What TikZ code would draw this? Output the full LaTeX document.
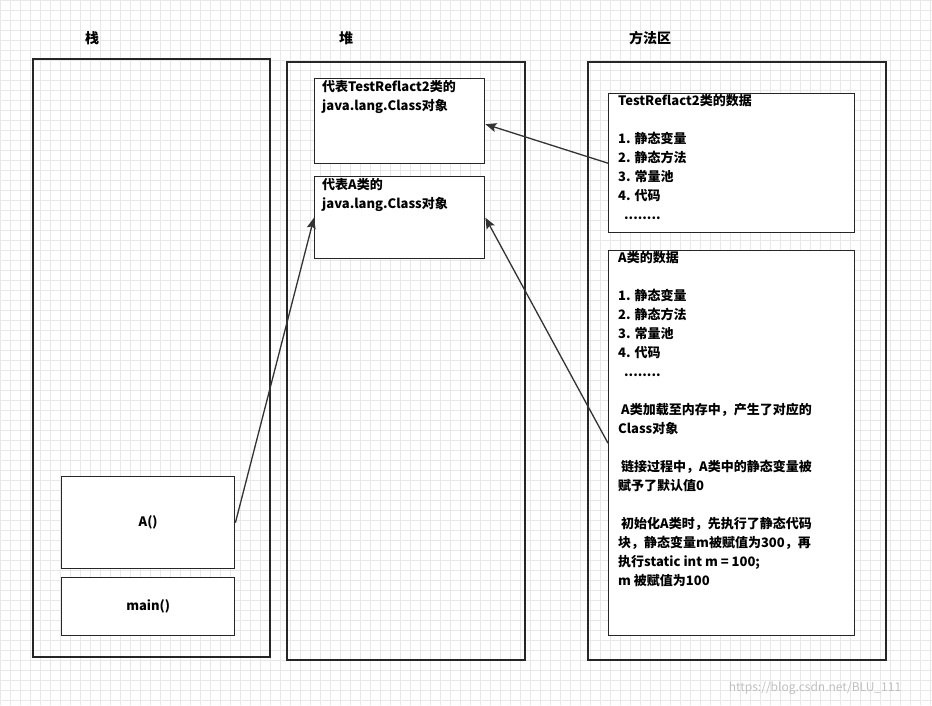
\documentclass[tikz,border=0pt]{standalone}
\usepackage{fontspec}
\usetikzlibrary{arrows.meta}
\setmainfont{Noto Sans CJK SC}
\begin{document}
\begin{tikzpicture}[x=1pt,y=-1pt,
  box/.style={draw=black!85,line width=1.4pt},
  txt/.style={anchor=north west,align=left,font=\fontsize{13}{19}\selectfont\bfseries,inner sep=0pt},
  ttl/.style={font=\fontsize{14}{16}\selectfont\bfseries},
  arr/.style={draw=black!80,line width=1.3pt,-{Stealth[length=11pt,width=9pt,inset=2pt]}}]
\useasboundingbox (0,0) rectangle (932,705);
\fill[white] (0,0) rectangle (932,705);
\foreach \i in {0,10,...,930} \draw[black!9,line width=0.6pt] (\i,0) -- (\i,705);
\foreach \i in {0,10,...,700} \draw[black!9,line width=0.6pt] (0,\i) -- (932,\i);
\node[ttl] (t1) at (92,38) {栈};
\node[ttl] (t2) at (346,38) {堆};
\node[ttl] (t3) at (650,38) {方法区};
\draw[box] (33,59) rectangle (270,657);
\draw[box] (287,62) rectangle (525,660);
\draw[box] (588,62) rectangle (886,660);
\node[box,fill=white,minimum width=170pt,minimum height=85pt,anchor=north west] (h1) at (314,78) {};
\node[txt] (h1t) at (322,80) {代表TestReflact2类的\\java.lang.Class对象};
\node[box,fill=white,minimum width=170pt,minimum height=82pt,anchor=north west] (h2) at (314,176) {};
\node[txt] (h2t) at (322,178) {代表A类的\\java.lang.Class对象};
\node[box,fill=white,minimum width=246pt,minimum height=139pt,anchor=north west] (m1) at (608,93) {};
\node[txt] (m1t) at (618,94) {TestReflact2类的数据\\[19pt]1. 静态变量\\2. 静态方法\\3. 常量池\\4. 代码\\\ \ ........};
\node[box,fill=white,minimum width=246pt,minimum height=385pt,anchor=north west] (m2) at (608,250) {};
\node[txt] (m2t) at (618,251) {A类的数据\\[19pt]1. 静态变量\\2. 静态方法\\3. 常量池\\4. 代码\\\ \ ........\\[19pt]\ A类加载至内存中，产生了对应的\\Class对象\\[19pt]\ 链接过程中，A类中的静态变量被\\赋予了默认值0\\[19pt]\ 初始化A类时，先执行了静态代码\\块，静态变量m被赋值为300，再\\执行static int m = 100;\\m 被赋值为100};
\node[box,fill=white,minimum width=173pt,minimum height=92pt,anchor=north west,font=\fontsize{13}{14}\selectfont\bfseries] (a) at (61,476) {A()};
\node[box,fill=white,minimum width=173pt,minimum height=58pt,anchor=north west,font=\fontsize{13}{14}\selectfont\bfseries] (mn) at (61,577) {main()};
\draw[arr] (a.east) -- (h2.west);
\draw[arr] (m1.west) -- ([yshift=-3pt]h1.east);
\draw[arr] (m2.west) -- (h2.east);
\node[text=black!25,font=\fontsize{12}{14}\selectfont] (wm) at (815,688) {https://blog.csdn.net/BLU\_111};
\end{tikzpicture}
\end{document}
